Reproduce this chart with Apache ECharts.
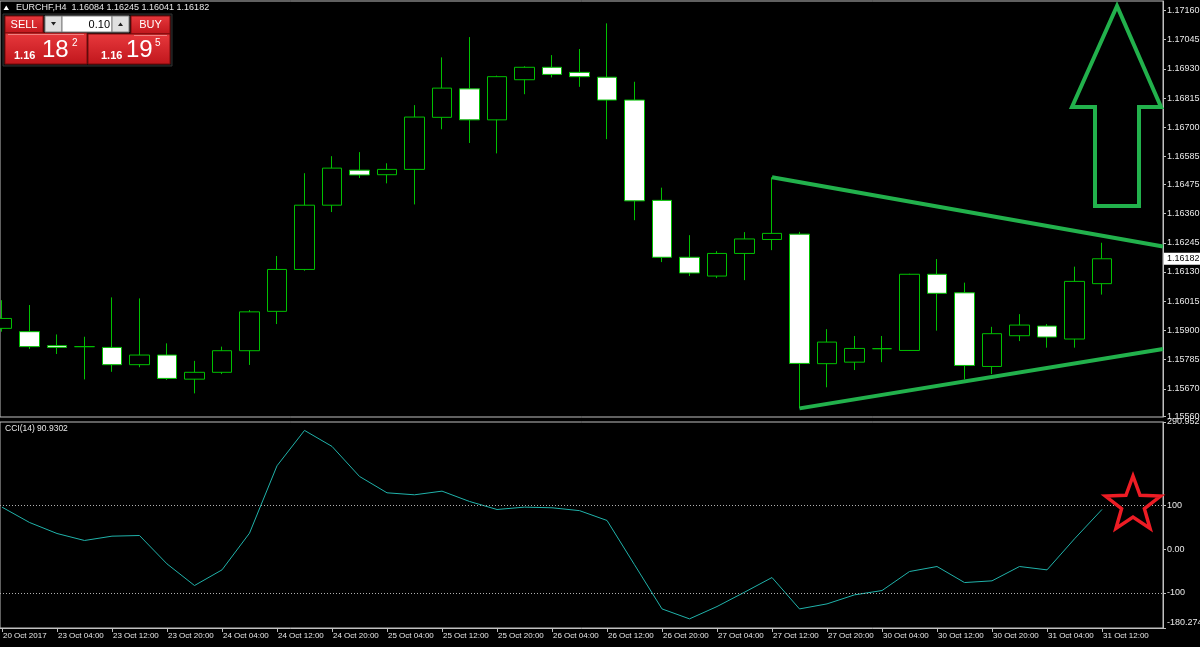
<!DOCTYPE html>
<html><head><meta charset="utf-8">
<script src="https://cdn.jsdelivr.net/npm/echarts@6/dist/echarts.min.js"></script>
<style>html,body{margin:0;padding:0;background:#000;overflow:hidden}#c{width:1200px;height:647px}</style>
</head><body><div id="c"></div>
<script>
// ---- data (EURCHF H4) ----
const symbolTitle = 'EURCHF,H4';
const barOpen  = [1.15908,1.15895,1.15840,1.15836,1.15833,1.15765,1.15803,1.15708,1.15735,1.15820,
                  1.15975,1.16140,1.16393,1.16531,1.16513,1.16534,1.16739,1.16851,1.16729,1.16887,
                  1.16936,1.16916,1.16897,1.16807,1.16412,1.16188,1.16114,1.16203,1.16258,1.16279,
                  1.15769,1.15775,1.15828,1.15821,1.16121,1.16048,1.15758,1.15879,1.15917,1.15866,1.16084];
const barClose = [1.15947,1.15836,1.15833,1.15836,1.15765,1.15803,1.15711,1.15735,1.15820,1.15973,
                  1.16140,1.16393,1.16539,1.16512,1.16534,1.16740,1.16854,1.16729,1.16899,1.16936,
                  1.16908,1.16899,1.16807,1.16410,1.16188,1.16126,1.16203,1.16260,1.16282,1.15770,
                  1.15854,1.15829,1.15828,1.16121,1.16046,1.15762,1.15887,1.15921,1.15874,1.16093,1.16182];
const barLow   = [1.15895,1.15827,1.15807,1.15707,1.15737,1.15755,1.15705,1.15652,1.15728,1.15764,
                  1.15925,1.16135,1.16366,1.16500,1.16479,1.16396,1.16692,1.16638,1.16597,1.16830,
                  1.16896,1.16859,1.16653,1.16334,1.16169,1.16114,1.16106,1.16098,1.16216,1.15593,
                  1.15676,1.15744,1.15775,1.15819,1.15899,1.15707,1.15728,1.15858,1.15832,1.15832,1.16041];
const barHigh  = [1.16019,1.16000,1.15884,1.15875,1.16030,1.16026,1.15849,1.15780,1.15836,1.15980,
                  1.16193,1.16519,1.16586,1.16602,1.16558,1.16787,1.16975,1.17055,1.16903,1.16940,
                  1.16984,1.17008,1.17109,1.16879,1.16462,1.16275,1.16212,1.16287,1.16503,1.16288,
                  1.15905,1.15878,1.15878,1.16123,1.16181,1.16088,1.15914,1.15964,1.15925,1.16151,1.16245];
const cciValues = [96.2,61.1,35.9,19.9,29.8,31.3,-33.6,-83.1,-47.3,36.7,
                   190.8,271.7,235.1,166.4,129.0,124.4,132.8,109.2,90.8,96.2,
                   94.7,88.2,65.7,-35.5,-136.6,-159.4,-131.2,-98.4,-64.8,-136.6,
                   -125.1,-104.5,-94.6,-51.1,-39.6,-76.3,-72.4,-39.6,-47.3,23.7,90.9302];
const cciLevels = [100, -100];
const priceTicks = [1.17160,1.17045,1.16930,1.16815,1.16700,1.16585,1.16475,1.16360,1.16245,
                    1.16130,1.16015,1.15900,1.15785,1.15670,1.15560];
const cciTicks = [290.9527, 100, 0, -100, -180.2745];
const cciTickLabels = ['290.9527','100','0.00','-100','-180.2745'];
const xTickBars = [0,2,4,6,8,10,12,14,16,18,20,22,24,26,28,30,32,34,36,38,40];
const xTickLabels = ['20 Oct 2017','23 Oct 04:00','23 Oct 12:00','23 Oct 20:00','24 Oct 04:00',
  '24 Oct 12:00','24 Oct 20:00','25 Oct 04:00','25 Oct 12:00','25 Oct 20:00','26 Oct 04:00',
  '26 Oct 12:00','26 Oct 20:00','27 Oct 04:00','27 Oct 12:00','27 Oct 20:00','30 Oct 04:00',
  '30 Oct 12:00','30 Oct 20:00','31 Oct 04:00','31 Oct 12:00'];
const trendUpper = [[28, 1.16503], [42.22, 1.16230]];
const trendLower = [[29, 1.15593], [42.22, 1.15827]];
const priceRange = [1.15559, 1.17197];
const cciRange = [-180.2745, 290.9527];
const xRange = [-0.0727, 42.218];

// ---- chart ----
const FONT = '"Liberation Sans", Arial, sans-serif';
const FG = '#e8e8e8';
const FRAME = '#c0c0c0';
const GREEN = '#00c000';
const PAINT_GREEN = '#22b14c';
const chart = echarts.init(document.getElementById('c'), null, {renderer: 'canvas'});
const candleData = barOpen.map((o, i) => [i, o, barClose[i], barLow[i], barHigh[i]]);
const last = barOpen.length - 1;

chart.setOption({
  backgroundColor: '#000',
  animation: false,
  grid: [
    {left: 0, top: 1, width: 1163, height: 416, show: true, borderColor: FRAME, borderWidth: 1,
     containLabel: false, outerBoundsMode: 'none'},
    {left: 0, top: 422, width: 1163, height: 206, show: true, borderColor: FRAME, borderWidth: 1,
     containLabel: false, outerBoundsMode: 'none'}
  ],
  xAxis: [
    {type: 'value', gridIndex: 0, min: xRange[0], max: xRange[1], show: false, splitLine: {show: false},
     axisLine: {onZero: false}},
    {type: 'value', gridIndex: 1, min: xRange[0], max: xRange[1], splitLine: {show: false}, position: 'bottom',
     axisLine: {show: true, onZero: false, lineStyle: {color: FRAME}},
     axisTick: {show: true, customValues: xTickBars, length: 4, lineStyle: {color: FRAME}},
     axisLabel: {customValues: xTickBars, formatter: v => xTickLabels[xTickBars.indexOf(Math.round(v))] || '',
       color: FG, fontSize: 8, fontFamily: FONT, align: 'left', margin: 4, padding: [0, 0, 0, 1]}}
  ],
  yAxis: [
    {type: 'value', gridIndex: 0, position: 'right', min: priceRange[0], max: priceRange[1],
     splitLine: {show: false},
     axisLine: {show: true, onZero: false, lineStyle: {color: FRAME}},
     axisTick: {show: true, customValues: priceTicks, length: 3, lineStyle: {color: FRAME}},
     axisLabel: {customValues: priceTicks, formatter: v => v.toFixed(5), color: FG, fontSize: 9,
       fontFamily: FONT, align: 'left', margin: 4}},
    {type: 'value', gridIndex: 1, position: 'right', min: cciRange[0], max: cciRange[1],
     splitLine: {show: false},
     axisLine: {show: true, onZero: false, lineStyle: {color: FRAME}},
     axisTick: {show: true, customValues: cciTicks, length: 3, lineStyle: {color: FRAME}},
     axisLabel: {customValues: cciTicks, color: FG, fontSize: 9, fontFamily: FONT, align: 'left', margin: 4,
       formatter: v => {
         const k = cciTicks.findIndex(t => Math.abs(t - v) < 1e-6);
         const s = k >= 0 ? cciTickLabels[k] : '';
         return k === cciTicks.length - 1 ? '{b|' + s + '}' : s;
       },
       rich: {b: {color: FG, fontSize: 9, fontFamily: FONT, padding: [0, 0, 10, 0]}}}}
  ],
  series: [
    {type: 'candlestick', xAxisIndex: 0, yAxisIndex: 0, data: candleData, barWidth: 20, silent: true,
     itemStyle: {color: '#000000', color0: '#ffffff', borderColor: GREEN, borderColor0: GREEN,
       borderColorDoji: GREEN, borderWidth: 1}},
    {type: 'line', xAxisIndex: 0, yAxisIndex: 0, data: trendUpper, symbol: 'none', silent: true,
     lineStyle: {color: PAINT_GREEN, width: 4}, z: 5},
    {type: 'line', xAxisIndex: 0, yAxisIndex: 0, data: trendLower, symbol: 'none', silent: true,
     lineStyle: {color: PAINT_GREEN, width: 4}, z: 5},
    {type: 'line', xAxisIndex: 1, yAxisIndex: 1, data: cciValues.map((v, i) => [i, v]), symbol: 'none',
     silent: true, lineStyle: {color: '#20b2aa', width: 1},
     markLine: {silent: true, symbol: 'none', label: {show: false},
       lineStyle: {color: '#b0b0b0', type: [1, 2], width: 1},
       data: cciLevels.map(v => ({yAxis: v}))}}
  ]
});

// ---- decorations ----
const tagY = chart.convertToPixel({yAxisIndex: 0}, barClose[last]);
function starPts(cx, cy, R, r) {
  const p = [];
  for (let k = 0; k < 10; k++) {
    const a = -Math.PI / 2 + k * Math.PI / 5;
    const rad = k % 2 === 0 ? R : r;
    p.push([cx + rad * Math.cos(a), cy + rad * Math.sin(a)]);
  }
  return p;
}
const red = {type: 'linear', x: 0, y: 0, x2: 0, y2: 1,
  colorStops: [{offset: 0, color: '#e8393d'}, {offset: 1, color: '#c0161c'}]};
const txt = (text, x, y, size, color, align, weight) => ({type: 'text', z: 100, silent: true,
  style: {text, x, y, fill: color, fontSize: size, fontFamily: FONT, fontWeight: weight || 'normal',
    align: align || 'left', verticalAlign: 'middle'}});
const graphics = [
  {type: 'polygon', silent: true, z: 100, shape: {points: [[3.5, 10], [9, 10], [6.25, 5.5]]}, style: {fill: '#ffffff'}},
  txt(symbolTitle + '  ' + [barOpen[last], barHigh[last], barLow[last], barClose[last]].map(v => v.toFixed(5)).join(' '),
      16, 8, 9, FG),
  // one-click trading panel
  {type: 'rect', silent: true, z: 99, shape: {x: 3, y: 14, width: 169, height: 52}, style: {fill: '#111', stroke: '#333'}},
  {type: 'rect', silent: true, z: 100, shape: {x: 5, y: 16, width: 38, height: 17}, style: {fill: red, stroke: '#7a0a0a'}},
  {type: 'rect', silent: true, z: 100, shape: {x: 5, y: 33, width: 82, height: 31}, style: {fill: red, stroke: '#7a0a0a'}},
  {type: 'line', silent: true, z: 101, shape: {x1: 8, y1: 34.5, x2: 84, y2: 34.5}, style: {stroke: '#f08080', lineWidth: 1}},
  {type: 'rect', silent: true, z: 100, shape: {x: 45, y: 16, width: 17, height: 16}, style: {fill: '#e0e0e0', stroke: '#808080'}},
  {type: 'rect', silent: true, z: 100, shape: {x: 62, y: 16, width: 50, height: 16}, style: {fill: '#ffffff', stroke: '#808080'}},
  {type: 'rect', silent: true, z: 100, shape: {x: 112, y: 16, width: 17, height: 16}, style: {fill: '#e0e0e0', stroke: '#808080'}},
  {type: 'polygon', silent: true, z: 101, shape: {points: [[51, 22], [56, 22], [53.5, 25.5]]}, style: {fill: '#202020'}},
  {type: 'polygon', silent: true, z: 101, shape: {points: [[118, 26], [123, 26], [120.5, 22.5]]}, style: {fill: '#202020'}},
  {type: 'rect', silent: true, z: 100, shape: {x: 131, y: 16, width: 39, height: 18}, style: {fill: red, stroke: '#7a0a0a'}},
  {type: 'rect', silent: true, z: 100, shape: {x: 88, y: 34, width: 82, height: 30}, style: {fill: red, stroke: '#7a0a0a'}},
  {type: 'line', silent: true, z: 101, shape: {x1: 134, y1: 35.5, x2: 167, y2: 35.5}, style: {stroke: '#f08080', lineWidth: 1}},
  txt('SELL', 24, 25, 11, '#ffffff', 'center'),
  txt('0.10', 110, 24.5, 11, '#000000', 'right'),
  txt('BUY', 150.5, 25, 11, '#ffffff', 'center'),
  txt('1.16', 14, 55.5, 11, '#ffffff', 'left', 'bold'),
  txt('18', 42, 50.5, 24, '#ffffff', 'left'),
  txt('2', 72, 43.5, 10, '#ffffff', 'left'),
  txt('1.16', 101, 55.5, 11, '#ffffff', 'left', 'bold'),
  txt('19', 126, 50.5, 24, '#ffffff', 'left'),
  txt('5', 155, 43.5, 10, '#ffffff', 'left'),
  // CCI header
  txt('CCI(14) ' + cciValues[last].toFixed(4), 5, 429, 8.5, FG),
  // current price tag
  {type: 'rect', silent: true, z: 100, shape: {x: 1164, y: tagY - 6, width: 36, height: 12}, style: {fill: '#ffffff'}},
  txt(barClose[last].toFixed(5), 1167, tagY, 9, '#000000'),
  // hand-drawn arrow and star
  {type: 'polygon', silent: true, z: 90, shape: {points: [[1117, 6], [1072, 107], [1095, 107], [1095, 206], [1139, 206], [1139, 107], [1161, 107]]},
   style: {fill: 'none', stroke: PAINT_GREEN, lineWidth: 4, lineJoin: 'miter'}},
  {type: 'polygon', silent: true, z: 90, shape: {points: starPts(1133, 505, 29, 12)},
   style: {fill: 'none', stroke: '#ed1c24', lineWidth: 3.5, lineJoin: 'miter'}}
];
chart.setOption({graphic: graphics});
</script>
</body></html>
